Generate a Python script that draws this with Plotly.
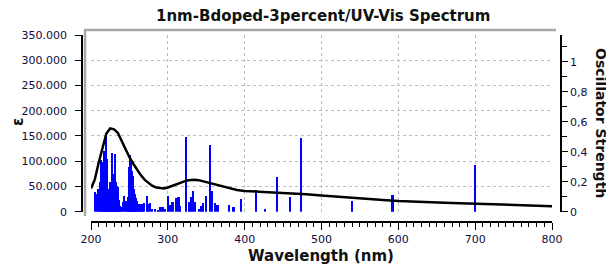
import plotly.graph_objects as go

# ---------------- data ----------------
wavelength_nm = [200, 205, 210, 215, 220, 225, 230, 235, 240, 245, 250, 255, 260, 265, 270,
                 275, 280, 285, 290, 295, 300, 305, 310, 315, 320, 325, 330, 335, 340, 345,
                 350, 355, 360, 370, 380, 390, 400, 420, 440, 460, 480, 500, 520, 540, 560,
                 580, 600, 620, 640, 660, 680, 700, 720, 740, 760, 780, 800]
epsilon = [46000, 64000, 97000, 128000, 155000, 165000, 163000, 156000, 140000, 123000,
           108000, 95000, 83000, 72000, 63000, 56000, 51000, 48000, 46500, 46000, 48000,
           51000, 54000, 57000, 60000, 62000, 63000, 63500, 62500, 60500, 58500, 56500,
           55000, 50500, 46500, 43000, 41000, 39500, 38500, 36500, 34500, 32000, 29500,
           27000, 25000, 23000, 21000, 19500, 18500, 17500, 16800, 16000, 15000, 14000,
           13000, 12000, 11000]

bar_nm = [205.2, 207.4, 209.6, 211.7, 213.0, 214.8, 216.0, 217.0, 218.0, 219.1, 220.2, 221.3,
          222.6, 223.7, 224.8, 226.0, 226.9, 228.0, 229.0, 230.2, 231.3, 232.4, 233.4, 234.3,
          235.2, 236.3, 237.3, 239.0, 241.2, 243.0, 245.1, 246.9, 248.0, 249.0, 250.0, 250.8,
          252.0, 253.0, 254.0, 255.1, 256.2, 257.3, 258.4, 259.5, 261.6, 263.0, 265.0, 267.0,
          269.0, 272.5, 274.5, 276.8, 279.0, 283.0, 286.8, 290.0, 293.0, 296.0, 300.0, 303.0,
          306.0, 311.0, 314.0, 316.0, 323.5, 328.0, 330.5, 333.0, 335.5, 341.0, 343.0, 345.5,
          349.5, 355.0, 357.0, 361.5, 364.5, 380.0, 385.5, 395.5, 415.0, 426.0, 442.0, 458.5,
          473.5, 539.5, 592.5, 700.0]
osc_strength = [0.133, 0.118, 0.152, 0.195, 0.343, 0.330, 0.250, 0.407, 0.300, 0.528, 0.350, 0.195,
                0.108, 0.150, 0.195, 0.074, 0.390, 0.200, 0.160, 0.250, 0.384, 0.200, 0.173, 0.120,
                0.168, 0.080, 0.040, 0.029, 0.062, 0.102, 0.074, 0.029, 0.100, 0.207, 0.300, 0.380,
                0.330, 0.273, 0.240, 0.207, 0.150, 0.118, 0.090, 0.074, 0.040, 0.050, 0.050, 0.050,
                0.060, 0.107, 0.050, 0.057, 0.017, 0.020, 0.014, 0.030, 0.034, 0.017, 0.104, 0.047,
                0.067, 0.094, 0.100, 0.040, 0.500, 0.062, 0.100, 0.141, 0.062, 0.017, 0.040, 0.060,
                0.104, 0.445, 0.140, 0.057, 0.044, 0.047, 0.030, 0.084, 0.148, 0.017, 0.229, 0.098,
                0.490, 0.071, 0.111, 0.311]

x_ticks = [200, 300, 400, 500, 600, 700, 800]

# ---------------- layout geometry (window pixels) ----------------
# the page body keeps the browser's default 8px margin, so the figure is
# made 8px smaller and every window position is shifted by that offset
OFF = 8
W, H = 614 - OFF, 268 - OFF
L_AX, R_AX, B_AX, TOP = 82, 561, 222, 35       # axis-line positions in the window
X0, X1, Y0 = 91, 552, 211.7                     # data area in the window
PW, PH = R_AX - L_AX, B_AX - TOP


def px(x):
    return (x - L_AX) / PW


def py(y):
    return (B_AX - y) / PH


FONT = "DejaVu Sans"
TICKCOL = "#0d0d40"
GRID = "#bdbdbd"

fig = go.Figure()
fig.add_trace(go.Bar(x=bar_nm, y=osc_strength, width=2.9, yaxis="y",
                     marker=dict(color="#0000ff", line=dict(width=0)),
                     showlegend=False, hoverinfo="skip"))
fig.add_trace(go.Scatter(x=wavelength_nm, y=epsilon, mode="lines", yaxis="y2",
                         line=dict(color="black", width=2.5),
                         showlegend=False, hoverinfo="skip"))

fig.update_layout(
    width=W, height=H,
    margin=dict(l=L_AX - OFF, r=614 - R_AX, t=TOP - OFF, b=268 - B_AX, pad=0),
    paper_bgcolor="white", plot_bgcolor="white",
    separators=",.",
    bargap=0,
    font=dict(family=FONT, size=11, color=TICKCOL),
    xaxis=dict(
        domain=[px(X0), px(X1)], range=[200, 800], anchor="free", position=0,
        tickmode="array", tickvals=x_ticks, ticktext=[str(v) for v in x_ticks],
        showline=True, linecolor="black", linewidth=1.5,
        ticks="outside", ticklen=7, tickwidth=1.2, tickcolor="black",
        minor=dict(dtick=10, tick0=200, ticks="outside", ticklen=4, tickwidth=1,
                   tickcolor="black", showgrid=False),
        showgrid=True, gridcolor=GRID, griddash="dot", gridwidth=1,
        zeroline=False, tickfont=dict(size=11, color=TICKCOL),
    ),
    yaxis=dict(
        domain=[py(Y0), 1], range=[0, 1.178], side="right", anchor="free", position=1,
        dtick=0.2, tick0=0,
        showline=True, linecolor="black", linewidth=1.5,
        ticks="outside", ticklen=6, tickwidth=1.2, tickcolor="black",
        minor=dict(dtick=0.1, ticks="outside", ticklen=5, tickwidth=1,
                   tickcolor="black", showgrid=False),
        showgrid=False, zeroline=False, tickfont=dict(size=11, color=TICKCOL),
    ),
    yaxis2=dict(
        overlaying="y", side="left", anchor="free", position=0,
        range=[0, 350000], dtick=50000, tick0=0, tickformat=",d",
        showline=True, linecolor="black", linewidth=1.5,
        ticks="outside", ticklen=6, tickwidth=1.2, tickcolor="black",
        showgrid=True, gridcolor=GRID, griddash="dot", gridwidth=1,
        zeroline=False, tickfont=dict(size=11, color=TICKCOL),
        ticklabelstandoff=6,
    ),
)

# grey inset frame (top and left edges)
fig.add_shape(type="line", xref="paper", yref="paper", layer="below",
              x0=px(85), x1=px(85), y0=py(216), y1=py(30),
              line=dict(color="#a8a8a8", width=2.5))
fig.add_shape(type="line", xref="paper", yref="paper", layer="below",
              x0=px(84), x1=px(556), y0=py(30), y1=py(30),
              line=dict(color="#a8a8a8", width=2.5))

# texts
fig.add_annotation(text="<b>1nm-Bdoped-3percent/UV-Vis Spectrum</b>", xref="paper", yref="paper",
                   x=px(323), y=py(16), xanchor="center", yanchor="middle", showarrow=False,
                   font=dict(family=FONT, size=15, color="#111111"))
fig.add_annotation(text="<b>Wavelength (nm)</b>", xref="paper", yref="paper",
                   x=px(321), y=py(256), xanchor="center", yanchor="middle", showarrow=False,
                   font=dict(family=FONT, size=15, color="#111111"))
fig.add_annotation(text="<b>ε</b>", xref="paper", yref="paper", textangle=-90,
                   x=px(18), y=py(122), xanchor="center", yanchor="middle", showarrow=False,
                   font=dict(family=FONT, size=15, color="#111111"))
fig.add_annotation(text="<b>Oscillator Strength</b>", xref="paper", yref="paper", textangle=90,
                   x=px(601), y=py(123), xanchor="center", yanchor="middle", showarrow=False,
                   font=dict(family=FONT, size=14, color="#111111"))

fig.write_html("out.html")
